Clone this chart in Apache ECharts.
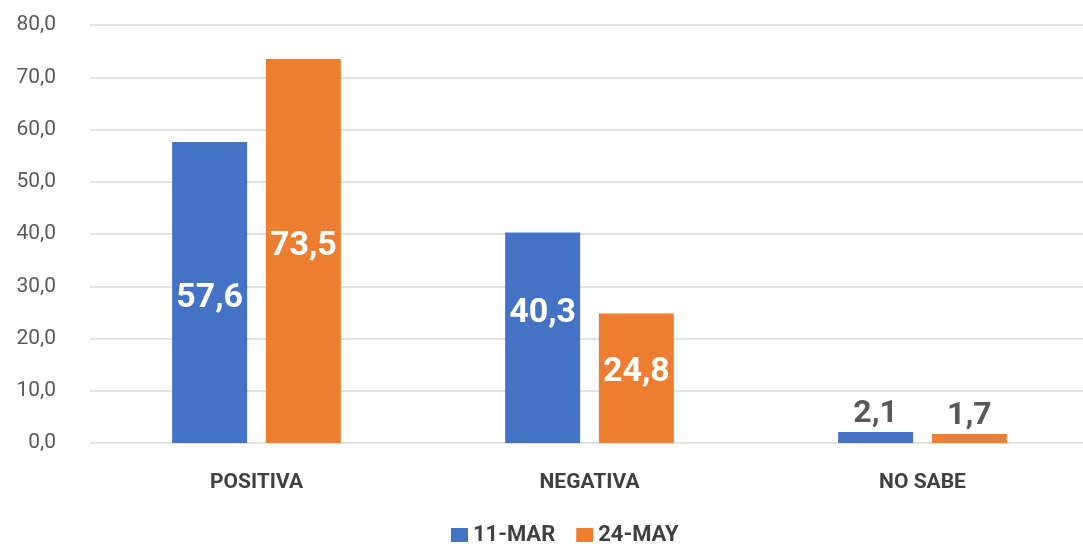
<!DOCTYPE html>
<html>
<head>
<meta charset="utf-8">
<title>Percepción</title>
<script src="https://cdn.jsdelivr.net/npm/echarts@6/dist/echarts.min.js"></script>
<style>
  html, body { margin: 0; padding: 0; background: #ffffff; }
  #chart { width: 1083px; height: 552px; }
</style>
</head>
<body>
<div id="chart"></div>
<script>
// datos
var categorias = ['POSITIVA', 'NEGATIVA', 'NO SABE'];
var serieNombres = ['11-MAR', '24-MAY'];
var valoresMar = [57.6, 40.3, 2.1];
var valoresMay = [73.5, 24.8, 1.7];

var fuente = '"Roboto", "Liberation Sans", sans-serif';

// ajuste vertical de las etiquetas (como en el original)
var ajusteMar = [6, -24, 0];
var ajusteMay = [-4, -6, 0];

// etiqueta por barra: las grandes dentro en blanco, las chicas arriba en gris
var etiqueta = function (ajuste) {
	return function (v, i) {
		return {
			value: v,
			label: v > 10 ? {
				position: 'inside',
				color: '#ffffff',
				fontSize: 34,
				offset: [0, ajuste[i]]
			} : {
				position: 'top',
				distance: 2,
				color: '#595959',
				fontSize: 32
			}
		};
	};
};

var formato = function (v) { return v.toFixed(1).replace('.', ','); };

var myChart = echarts.init(document.getElementById('chart'));
var option = {
	backgroundColor: '#ffffff',
	animation: false,
	textStyle: { fontFamily: fuente },
	color: ['#4472C4', '#ED7D31'],
	grid: {
		left: 90,
		right: -6,
		top: 25,
		bottom: 109,
		outerBoundsMode: 'none'
	},
	legend: {
		data: serieNombres,
		bottom: 1,
		left: 446,
		itemWidth: 17,
		itemHeight: 14,
		itemGap: 21,
		icon: 'rect',
		textStyle: {
			color: '#404040',
			fontSize: 22,
			fontWeight: 'bold',
			fontFamily: fuente
		}
	},
	xAxis: {
		type: 'category',
		data: categorias,
		axisLine: { show: false },
		axisTick: { show: false },
		axisLabel: {
			color: '#404040',
			fontSize: 21,
			fontWeight: 'bold',
			margin: 29,
			fontFamily: fuente
		}
	},
	yAxis: {
		type: 'value',
		min: 0,
		max: 80,
		interval: 10,
		axisLine: { show: false },
		axisTick: { show: false },
		splitLine: { lineStyle: { color: '#d9d9d9', width: 1.5 } },
		axisLabel: {
			color: '#595959',
			fontSize: 21,
			margin: 34,
			fontFamily: fuente,
			formatter: formato
		}
	},
	series: [
		{
			name: serieNombres[0],
			type: 'bar',
			barWidth: 75,
			barGap: '25%',
			data: valoresMar.map(etiqueta(ajusteMar)),
			label: {
				show: true,
				fontWeight: 'bold',
				fontFamily: fuente,
				formatter: function (p) { return formato(p.value); }
			}
		},
		{
			name: serieNombres[1],
			type: 'bar',
			barWidth: 75,
			barGap: '25%',
			data: valoresMay.map(etiqueta(ajusteMay)),
			label: {
				show: true,
				fontWeight: 'bold',
				fontFamily: fuente,
				formatter: function (p) { return formato(p.value); }
			}
		}
	]
};
myChart.setOption(option);
</script>
</body>
</html>
